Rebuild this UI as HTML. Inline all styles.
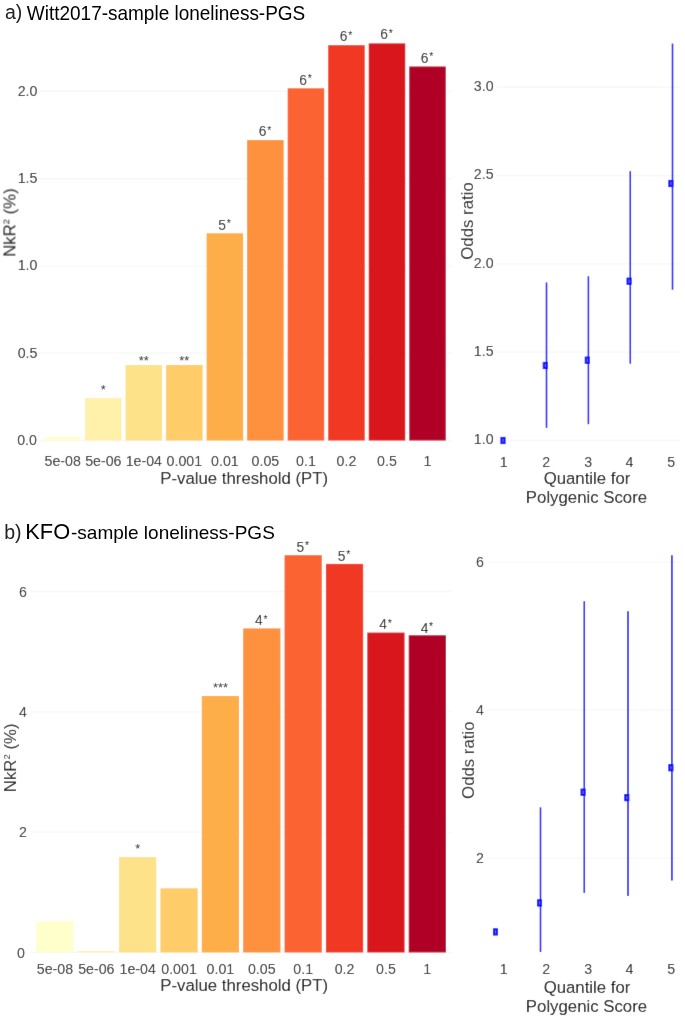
<!DOCTYPE html>
<html><head><meta charset="utf-8"><style>
html,body{margin:0;padding:0;background:#fff;}
body{width:685px;height:1023px;overflow:hidden;}
svg{display:block;font-family:"Liberation Sans", sans-serif;}
#w{width:685px;height:1023px;will-change:transform;}
</style></head><body>
<div id="w"><svg width="685" height="1023" viewBox="0 0 685 1023">
<defs><filter id="bl" x="0" y="0" width="685" height="1023" filterUnits="userSpaceOnUse"><feConvolveMatrix order="3" kernelMatrix="0.0072 0.085 0.0072 0.085 1 0.085 0.0072 0.085 0.0072" edgeMode="duplicate" preserveAlpha="true"/></filter></defs>
<g filter="url(#bl)"><rect width="685" height="1023" fill="#fff"/>
<line x1="38.30" y1="440.50" x2="451.80" y2="440.50" stroke="#F7F7F7" stroke-width="1.3"/>
<text x="36.90" y="444.80" font-size="14.2" fill="#222222" text-anchor="end" >0.0</text>
<line x1="38.30" y1="353.20" x2="451.80" y2="353.20" stroke="#F7F7F7" stroke-width="1.3"/>
<text x="37.40" y="357.50" font-size="14.2" fill="#222222" text-anchor="end" >0.5</text>
<line x1="38.30" y1="265.90" x2="451.80" y2="265.90" stroke="#F7F7F7" stroke-width="1.3"/>
<text x="37.40" y="270.20" font-size="14.2" fill="#222222" text-anchor="end" >1.0</text>
<line x1="38.30" y1="178.60" x2="451.80" y2="178.60" stroke="#F7F7F7" stroke-width="1.3"/>
<text x="37.40" y="182.90" font-size="14.2" fill="#222222" text-anchor="end" >1.5</text>
<line x1="38.30" y1="91.30" x2="451.80" y2="91.30" stroke="#F7F7F7" stroke-width="1.3"/>
<text x="37.40" y="95.60" font-size="14.2" fill="#222222" text-anchor="end" >2.0</text>
<rect x="44.50" y="437.00" width="36.50" height="3.50" fill="#FFFFCC" />
<text x="62.75" y="466.40" font-size="14.2" fill="#222222" text-anchor="middle" >5e-08</text>
<rect x="85.03" y="398.10" width="36.50" height="42.40" fill="#FFF1AA" />
<text x="103.28" y="466.40" font-size="14.2" fill="#222222" text-anchor="middle" >5e-06</text>
<rect x="125.56" y="365.05" width="36.50" height="75.45" fill="#FEE289" />
<text x="143.81" y="466.40" font-size="14.2" fill="#222222" text-anchor="middle" >1e-04</text>
<rect x="166.09" y="365.05" width="36.50" height="75.45" fill="#FECC68" />
<text x="184.34" y="466.40" font-size="14.2" fill="#222222" text-anchor="middle" >0.001</text>
<rect x="206.62" y="233.30" width="36.50" height="207.20" fill="#FEAE4A" />
<text x="224.87" y="466.40" font-size="14.2" fill="#222222" text-anchor="middle" >0.01</text>
<rect x="247.15" y="140.10" width="36.50" height="300.40" fill="#FD913E" />
<text x="265.40" y="466.40" font-size="14.2" fill="#222222" text-anchor="middle" >0.05</text>
<rect x="287.68" y="88.30" width="36.50" height="352.20" fill="#FC6330" />
<text x="305.93" y="466.40" font-size="14.2" fill="#222222" text-anchor="middle" >0.1</text>
<rect x="328.21" y="45.20" width="36.50" height="395.30" fill="#F13724" />
<text x="346.46" y="466.40" font-size="14.2" fill="#222222" text-anchor="middle" >0.2</text>
<rect x="368.74" y="43.40" width="36.50" height="397.10" fill="#D8141E" />
<text x="386.99" y="466.40" font-size="14.2" fill="#222222" text-anchor="middle" >0.5</text>
<rect x="409.27" y="66.50" width="36.50" height="374.00" fill="#B10026" />
<text x="427.52" y="466.40" font-size="14.2" fill="#222222" text-anchor="middle" >1</text>
<text x="103.28" y="393.50" font-size="12.8" fill="#2a2a2a" text-anchor="middle" >*</text>
<text x="143.81" y="365.40" font-size="12.8" fill="#2a2a2a" text-anchor="middle" >**</text>
<text x="184.34" y="365.40" font-size="12.8" fill="#2a2a2a" text-anchor="middle" >**</text>
<text x="224.47" y="229.70" font-size="13.8" fill="#222" text-anchor="middle">5<tspan font-size="10.5" dx="0.8" dy="-2.5">*</tspan></text>
<text x="265.00" y="136.30" font-size="13.8" fill="#222" text-anchor="middle">6<tspan font-size="10.5" dx="0.8" dy="-2.5">*</tspan></text>
<text x="305.53" y="84.50" font-size="13.8" fill="#222" text-anchor="middle">6<tspan font-size="10.5" dx="0.8" dy="-2.5">*</tspan></text>
<text x="346.06" y="41.40" font-size="13.8" fill="#222" text-anchor="middle">6<tspan font-size="10.5" dx="0.8" dy="-2.5">*</tspan></text>
<text x="386.59" y="39.40" font-size="13.8" fill="#222" text-anchor="middle">6<tspan font-size="10.5" dx="0.8" dy="-2.5">*</tspan></text>
<text x="427.12" y="62.60" font-size="13.8" fill="#222" text-anchor="middle">6<tspan font-size="10.5" dx="0.8" dy="-2.5">*</tspan></text>
<text x="244.20" y="483.90" font-size="16.8" fill="#000" text-anchor="middle" >P-value threshold (PT)</text>
<text transform="translate(15.40,222.60) rotate(-90)" font-size="16.8" fill="#1a1a1a" text-anchor="middle">NkR<tspan font-size="9.5" dy="-6.2">2</tspan><tspan dy="6.2"> (%)</tspan></text>
<line x1="496.20" y1="440.40" x2="680.70" y2="440.40" stroke="#F7F7F7" stroke-width="1.3"/>
<text x="493.60" y="444.30" font-size="14.2" fill="#222222" text-anchor="end" >1.0</text>
<line x1="496.20" y1="352.12" x2="680.70" y2="352.12" stroke="#F7F7F7" stroke-width="1.3"/>
<text x="493.60" y="356.02" font-size="14.2" fill="#222222" text-anchor="end" >1.5</text>
<line x1="496.20" y1="263.85" x2="680.70" y2="263.85" stroke="#F7F7F7" stroke-width="1.3"/>
<text x="493.60" y="267.75" font-size="14.2" fill="#222222" text-anchor="end" >2.0</text>
<line x1="496.20" y1="175.57" x2="680.70" y2="175.57" stroke="#F7F7F7" stroke-width="1.3"/>
<text x="493.60" y="179.47" font-size="14.2" fill="#222222" text-anchor="end" >2.5</text>
<line x1="496.20" y1="87.30" x2="680.70" y2="87.30" stroke="#F7F7F7" stroke-width="1.3"/>
<text x="493.60" y="91.20" font-size="14.2" fill="#222222" text-anchor="end" >3.0</text>
<line x1="546.50" y1="282.50" x2="546.50" y2="427.90" stroke="#0000FF" stroke-width="1.5"/>
<line x1="588.40" y1="276.30" x2="588.40" y2="424.20" stroke="#0000FF" stroke-width="1.5"/>
<line x1="630.30" y1="171.20" x2="630.30" y2="363.70" stroke="#0000FF" stroke-width="1.5"/>
<line x1="672.50" y1="43.60" x2="672.50" y2="289.70" stroke="#0000FF" stroke-width="1.5"/>
<rect x="501.35" y="437.80" width="3.3" height="5.4" fill="#5C5CFF" stroke="#0000FF" stroke-width="1.8"/>
<rect x="543.65" y="362.80" width="3.3" height="5.4" fill="#5C5CFF" stroke="#0000FF" stroke-width="1.8"/>
<rect x="585.65" y="357.50" width="3.3" height="5.4" fill="#5C5CFF" stroke="#0000FF" stroke-width="1.8"/>
<rect x="627.45" y="278.50" width="3.3" height="5.4" fill="#5C5CFF" stroke="#0000FF" stroke-width="1.8"/>
<rect x="669.25" y="180.80" width="3.3" height="5.4" fill="#5C5CFF" stroke="#0000FF" stroke-width="1.8"/>
<text x="503.70" y="466.50" font-size="14.2" fill="#222222" text-anchor="middle" >1</text>
<text x="546.10" y="466.50" font-size="14.2" fill="#222222" text-anchor="middle" >2</text>
<text x="588.20" y="466.50" font-size="14.2" fill="#222222" text-anchor="middle" >3</text>
<text x="629.50" y="466.50" font-size="14.2" fill="#222222" text-anchor="middle" >4</text>
<text x="671.30" y="466.50" font-size="14.2" fill="#222222" text-anchor="middle" >5</text>
<text x="587.00" y="483.60" font-size="16.8" fill="#000" text-anchor="middle" >Quantile for</text>
<text x="586.50" y="502.70" font-size="16.8" fill="#000" text-anchor="middle" >Polygenic Score</text>
<text transform="translate(473.00,221.00) rotate(-90)" font-size="16.8" fill="#1a1a1a" text-anchor="middle">Odds ratio</text>
<line x1="30.10" y1="952.45" x2="452.10" y2="952.45" stroke="#F7F7F7" stroke-width="1.3"/>
<text x="25.00" y="957.55" font-size="14.2" fill="#222222" text-anchor="end" >0</text>
<line x1="30.10" y1="832.19" x2="452.10" y2="832.19" stroke="#F7F7F7" stroke-width="1.3"/>
<text x="27.00" y="837.29" font-size="14.2" fill="#222222" text-anchor="end" >2</text>
<line x1="30.10" y1="711.93" x2="452.10" y2="711.93" stroke="#F7F7F7" stroke-width="1.3"/>
<text x="27.00" y="717.03" font-size="14.2" fill="#222222" text-anchor="end" >4</text>
<line x1="30.10" y1="591.67" x2="452.10" y2="591.67" stroke="#F7F7F7" stroke-width="1.3"/>
<text x="27.00" y="596.77" font-size="14.2" fill="#222222" text-anchor="end" >6</text>
<rect x="36.30" y="921.20" width="37.20" height="31.25" fill="#FFFFCC" />
<text x="54.90" y="974.20" font-size="14.2" fill="#222222" text-anchor="middle" >5e-08</text>
<rect x="77.68" y="951.10" width="37.20" height="1.35" fill="#FFF1AA" />
<text x="96.28" y="974.20" font-size="14.2" fill="#222222" text-anchor="middle" >5e-06</text>
<rect x="119.06" y="857.10" width="37.20" height="95.35" fill="#FEE289" />
<text x="137.66" y="974.20" font-size="14.2" fill="#222222" text-anchor="middle" >1e-04</text>
<rect x="160.44" y="888.30" width="37.20" height="64.15" fill="#FECC68" />
<text x="179.04" y="974.20" font-size="14.2" fill="#222222" text-anchor="middle" >0.001</text>
<rect x="201.82" y="696.00" width="37.20" height="256.45" fill="#FEAE4A" />
<text x="220.42" y="974.20" font-size="14.2" fill="#222222" text-anchor="middle" >0.01</text>
<rect x="243.20" y="628.40" width="37.20" height="324.05" fill="#FD913E" />
<text x="261.80" y="974.20" font-size="14.2" fill="#222222" text-anchor="middle" >0.05</text>
<rect x="284.58" y="555.20" width="37.20" height="397.25" fill="#FC6330" />
<text x="303.18" y="974.20" font-size="14.2" fill="#222222" text-anchor="middle" >0.1</text>
<rect x="325.96" y="563.90" width="37.20" height="388.55" fill="#F13724" />
<text x="344.56" y="974.20" font-size="14.2" fill="#222222" text-anchor="middle" >0.2</text>
<rect x="367.34" y="632.60" width="37.20" height="319.85" fill="#D8141E" />
<text x="385.94" y="974.20" font-size="14.2" fill="#222222" text-anchor="middle" >0.5</text>
<rect x="408.72" y="635.30" width="37.20" height="317.15" fill="#B10026" />
<text x="427.32" y="974.20" font-size="14.2" fill="#222222" text-anchor="middle" >1</text>
<text x="137.66" y="853.20" font-size="12.8" fill="#2a2a2a" text-anchor="middle" >*</text>
<text x="220.42" y="692.20" font-size="12.8" fill="#2a2a2a" text-anchor="middle" >***</text>
<text x="261.40" y="625.40" font-size="13.8" fill="#222" text-anchor="middle">4<tspan font-size="10.5" dx="0.8" dy="-2.5">*</tspan></text>
<text x="302.78" y="551.90" font-size="13.8" fill="#222" text-anchor="middle">5<tspan font-size="10.5" dx="0.8" dy="-2.5">*</tspan></text>
<text x="344.16" y="560.80" font-size="13.8" fill="#222" text-anchor="middle">5<tspan font-size="10.5" dx="0.8" dy="-2.5">*</tspan></text>
<text x="385.54" y="629.40" font-size="13.8" fill="#222" text-anchor="middle">4<tspan font-size="10.5" dx="0.8" dy="-2.5">*</tspan></text>
<text x="426.92" y="632.70" font-size="13.8" fill="#222" text-anchor="middle">4<tspan font-size="10.5" dx="0.8" dy="-2.5">*</tspan></text>
<text x="244.20" y="990.90" font-size="16.8" fill="#000" text-anchor="middle" >P-value threshold (PT)</text>
<text transform="translate(16.10,757.80) rotate(-90)" font-size="16.8" fill="#1a1a1a" text-anchor="middle">NkR<tspan font-size="9.5" dy="-6.2">2</tspan><tspan dy="6.2"> (%)</tspan></text>
<line x1="488.00" y1="858.20" x2="680.70" y2="858.20" stroke="#F7F7F7" stroke-width="1.3"/>
<text x="483.90" y="863.30" font-size="14.2" fill="#222222" text-anchor="end" >2</text>
<line x1="488.00" y1="710.00" x2="680.70" y2="710.00" stroke="#F7F7F7" stroke-width="1.3"/>
<text x="483.90" y="715.10" font-size="14.2" fill="#222222" text-anchor="end" >4</text>
<line x1="488.00" y1="561.80" x2="680.70" y2="561.80" stroke="#F7F7F7" stroke-width="1.3"/>
<text x="483.90" y="566.90" font-size="14.2" fill="#222222" text-anchor="end" >6</text>
<line x1="540.50" y1="807.40" x2="540.50" y2="952.00" stroke="#0000FF" stroke-width="1.5"/>
<line x1="584.30" y1="601.30" x2="584.30" y2="892.90" stroke="#0000FF" stroke-width="1.5"/>
<line x1="628.00" y1="611.30" x2="628.00" y2="895.90" stroke="#0000FF" stroke-width="1.5"/>
<line x1="671.90" y1="555.30" x2="671.90" y2="880.40" stroke="#0000FF" stroke-width="1.5"/>
<rect x="493.85" y="929.20" width="3.3" height="5.4" fill="#5C5CFF" stroke="#0000FF" stroke-width="1.8"/>
<rect x="537.85" y="900.20" width="3.3" height="5.4" fill="#5C5CFF" stroke="#0000FF" stroke-width="1.8"/>
<rect x="581.45" y="789.50" width="3.3" height="5.4" fill="#5C5CFF" stroke="#0000FF" stroke-width="1.8"/>
<rect x="625.15" y="794.90" width="3.3" height="5.4" fill="#5C5CFF" stroke="#0000FF" stroke-width="1.8"/>
<rect x="669.25" y="765.00" width="3.3" height="5.4" fill="#5C5CFF" stroke="#0000FF" stroke-width="1.8"/>
<text x="503.70" y="974.40" font-size="14.2" fill="#222222" text-anchor="middle" >1</text>
<text x="546.10" y="974.40" font-size="14.2" fill="#222222" text-anchor="middle" >2</text>
<text x="588.20" y="974.40" font-size="14.2" fill="#222222" text-anchor="middle" >3</text>
<text x="629.50" y="974.40" font-size="14.2" fill="#222222" text-anchor="middle" >4</text>
<text x="671.30" y="974.40" font-size="14.2" fill="#222222" text-anchor="middle" >5</text>
<text x="587.00" y="992.60" font-size="16.8" fill="#000" text-anchor="middle" >Quantile for</text>
<text x="586.50" y="1011.90" font-size="16.8" fill="#000" text-anchor="middle" >Polygenic Score</text>
<text transform="translate(474.40,760.20) rotate(-90)" font-size="16.8" fill="#1a1a1a" text-anchor="middle">Odds ratio</text>
</g>
<text x="5" y="18.8" font-size="19.5" fill="#222">a)</text>
<text x="26.8" y="0" font-size="19" fill="#000" transform="translate(0,20.0) scale(1,1.03)">Witt2017-sample loneliness-PGS</text>
<text x="4.2" y="539" font-size="19.5" fill="#222">b)</text>
<text x="25.3" y="539.1" font-size="21.8" fill="#000">KFO</text>
<text x="71.0" y="538.7" font-size="19" fill="#000">-sample loneliness-PGS</text>
</svg></div>
</body></html>
